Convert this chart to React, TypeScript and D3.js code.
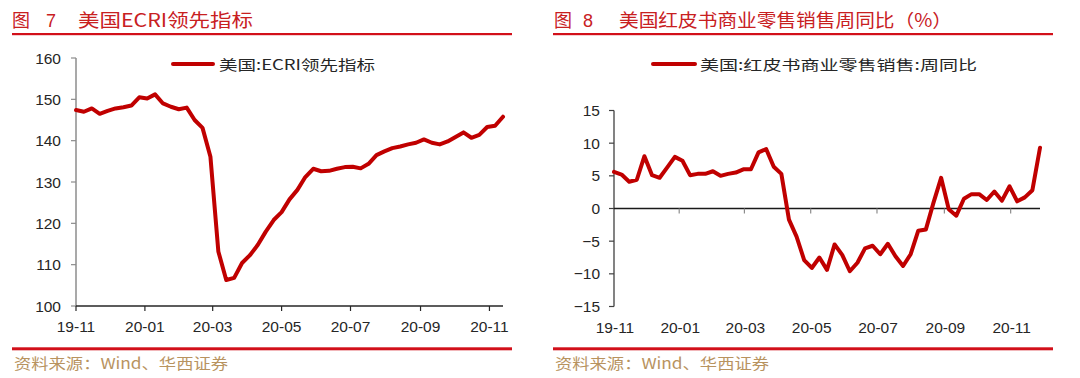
import React from "react";
import * as d3 from "d3";

// ---------- Data ----------
const ecriStart = new Date(2019, 10, 1); // weekly, Fridays
const ecriValues = [
  147.4, 147.0, 147.8, 146.5, 147.2, 147.8, 148.1, 148.5, 150.5, 150.2,
  151.2, 149.0, 148.2, 147.6, 148.0, 145.0, 143.1, 136.1, 113.2, 106.3,
  106.8, 110.4, 112.3, 114.8, 118.0, 120.8, 122.7, 125.8, 128.1, 131.2,
  133.2, 132.6, 132.7, 133.2, 133.6, 133.7, 133.3, 134.4, 136.5, 137.4,
  138.2, 138.6, 139.1, 139.5, 140.3, 139.5, 139.1, 139.8, 140.9, 142.0,
  140.7, 141.4, 143.3, 143.6, 145.8,
];
const redbookStart = new Date(2019, 10, 2); // weekly, Saturdays
const redbookValues = [
  5.6, 5.2, 4.1, 4.4, 8.0, 5.1, 4.7, 6.3, 7.9, 7.3,
  5.1, 5.3, 5.3, 5.7, 5.0, 5.3, 5.5, 6.0, 6.0, 8.6,
  9.1, 6.4, 5.3, -1.7, -4.3, -7.9, -9.1, -7.5, -9.4, -5.5,
  -7.1, -9.6, -8.3, -6.1, -5.7, -7.0, -5.4, -7.3, -8.8, -7.0,
  -3.4, -3.2, 0.9, 4.7, -0.1, -1.1, 1.5, 2.2, 2.2, 1.3,
  2.6, 1.2, 3.4, 1.1, 1.7, 2.8, 9.3,
];
const monthTicks = [
  new Date(2019, 10, 1), new Date(2020, 0, 1), new Date(2020, 2, 1), new Date(2020, 4, 1),
  new Date(2020, 6, 1), new Date(2020, 8, 1), new Date(2020, 10, 1),
];
const monthLabels = ["19-11", "20-01", "20-03", "20-05", "20-07", "20-09", "20-11"];
const ecriTicks = [100, 110, 120, 130, 140, 150, 160];
const redbookTicks = [-15, -10, -5, 0, 5, 10, 15];
const leftTitleNum = "7";
const leftTitle = "美国ECRI领先指标";
const rightTitleNum = "8";
const rightTitle = "美国红皮书商业零售销售周同比（%）";
const leftLegend = "美国:ECRI领先指标";
const rightLegend = "美国:红皮书商业零售销售:周同比";
const sourceText = "资料来源：Wind、华西证券";

const RED = "#c00000";
const TITLE_RED = "#c8201f";
const LINE_RED = "#d2101a";
const TAN = "#b8935f";
const TXT = "#262626";
const NUM_FONT = "'Liberation Sans', Arial, sans-serif";
const CJK_FONT = "'Noto Sans CJK SC', 'Noto Sans', sans-serif";

const weekly = (start: Date, n: number) => d3.range(n).map((i) => d3.timeDay.offset(start, 7 * i));

export default function App() {
  // ---------- Left chart ----------
  const ecriDates = weekly(ecriStart, ecriValues.length);
  const xL = d3.scaleTime().domain([ecriDates[0], ecriDates[ecriDates.length - 1]]).range([76, 503]);
  const yL = d3.scaleLinear().domain([100, 160]).range([306, 58]);
  const lineL = d3
    .line<number>()
    .x((_, i) => xL(ecriDates[i]))
    .y((d) => yL(d))
    .curve(d3.curveLinear);

  // ---------- Right chart ----------
  const rbDates = weekly(redbookStart, redbookValues.length);
  const xR = d3.scaleTime().domain([rbDates[0], rbDates[rbDates.length - 1]]).range([614, 1040]);
  const yR = d3.scaleLinear().domain([-15, 15]).range([306.5, 110.5]);
  const lineR = d3
    .line<number>()
    .x((_, i) => xR(rbDates[i]))
    .y((d) => yR(d));

  const clampR = (v: number) => Math.max(614, v);

  return (
    <div style={{ position: "absolute", left: 0, top: 0 }}>
      <svg width={1080} height={378} style={{ display: "block", background: "#fff" }}>
        {/* ===== Titles ===== */}
        <g fill={TITLE_RED} fontFamily={CJK_FONT} fontSize={18}>
          <text x={12} y={27}>图</text>
          <text x={46} y={27} fontFamily={NUM_FONT}>{leftTitleNum}</text>
          <text x={78} y={27} textLength={175} lengthAdjust="spacingAndGlyphs">{leftTitle}</text>
          <text x={554} y={27}>图</text>
          <text x={583} y={27} fontFamily={NUM_FONT}>{rightTitleNum}</text>
          <text x={619} y={27} textLength={333} lengthAdjust="spacingAndGlyphs">{rightTitle}</text>
        </g>
        <rect x={12} y={33} width={500} height={2.2} fill={LINE_RED} />
        <rect x={553} y={33} width={500} height={2.2} fill={LINE_RED} />

        {/* ===== Footers ===== */}
        <rect x={12} y={347.3} width={500} height={3} fill={LINE_RED} />
        <rect x={553} y={347.3} width={500} height={3} fill={LINE_RED} />
        <g fill={TAN} fontFamily={CJK_FONT} fontSize={15}>
          <text x={14} y={369} textLength={214} lengthAdjust="spacingAndGlyphs">{sourceText}</text>
          <text x={555} y={369} textLength={214} lengthAdjust="spacingAndGlyphs">{sourceText}</text>
        </g>

        {/* ===== Left chart ===== */}
        <g>
          {/* y axis */}
          <line x1={76} x2={76} y1={yL(160)} y2={yL(100)} stroke="#8c8c8c" strokeWidth={1.5} />
          {ecriTicks.map((t) => (
            <g key={"ly" + t}>
              <line x1={71} x2={76} y1={yL(t)} y2={yL(t)} stroke="#8c8c8c" strokeWidth={1.2} />
              <text x={61} y={yL(t) + 5.5} textAnchor="end" fontFamily={NUM_FONT} fontSize={15.5} fill={TXT}>
                {t}
              </text>
            </g>
          ))}
          {/* x axis */}
          <line x1={76} x2={503} y1={306} y2={306} stroke="#262626" strokeWidth={1.3} />
          {monthTicks.map((m, i) => (
            <g key={"lx" + i}>
              <line x1={xL(m)} x2={xL(m)} y1={306} y2={311} stroke="#262626" strokeWidth={1.2} />
              <text x={xL(m)} y={332} textAnchor="middle" fontFamily={NUM_FONT} fontSize={15.5} fill={TXT}>
                {monthLabels[i]}
              </text>
            </g>
          ))}
          {/* series */}
          <path d={lineL(ecriValues) || ""} fill="none" stroke={RED} strokeWidth={4} strokeLinejoin="round" strokeLinecap="round" />
          {/* legend */}
          <line x1={173} x2={213} y1={64} y2={64} stroke={RED} strokeWidth={4} strokeLinecap="round" />
          <text x={219} y={70} fontFamily={CJK_FONT} fontSize={14} fill={TXT} textLength={156} lengthAdjust="spacingAndGlyphs">
            {leftLegend}
          </text>
        </g>

        {/* ===== Right chart ===== */}
        <g>
          <line x1={614} x2={614} y1={yR(15)} y2={yR(-15)} stroke="#404040" strokeWidth={1.3} />
          {redbookTicks.map((t) => (
            <g key={"ry" + t}>
              <line x1={609} x2={614} y1={yR(t)} y2={yR(t)} stroke="#404040" strokeWidth={1.2} />
              <text x={600} y={yR(t) + 5.5} textAnchor="end" fontFamily={NUM_FONT} fontSize={15.5} fill={TXT}>
                {t < 0 ? "\u2212" + Math.abs(t) : String(t)}
              </text>
            </g>
          ))}
          <line x1={614} x2={1040} y1={yR(0)} y2={yR(0)} stroke="#1a1a1a" strokeWidth={1.3} />
          {monthTicks.map((m, i) => (
            <g key={"rx" + i}>
              {i > 0 && (
                <line x1={xR(m)} x2={xR(m)} y1={yR(0)} y2={yR(0) + 5} stroke="#8c8c8c" strokeWidth={1.2} />
              )}
              <text x={clampR(xR(m)) + 1} y={332.5} textAnchor="middle" fontFamily={NUM_FONT} fontSize={15.5} fill={TXT}>
                {monthLabels[i]}
              </text>
            </g>
          ))}
          <path d={lineR(redbookValues) || ""} fill="none" stroke={RED} strokeWidth={4} strokeLinejoin="round" strokeLinecap="round" />
          <line x1={653} x2={695} y1={64} y2={64} stroke={RED} strokeWidth={4} strokeLinecap="round" />
          <text x={700} y={70} fontFamily={CJK_FONT} fontSize={14} fill={TXT} textLength={277} lengthAdjust="spacingAndGlyphs">
            {rightLegend}
          </text>
        </g>
      </svg>
    </div>
  );
}
